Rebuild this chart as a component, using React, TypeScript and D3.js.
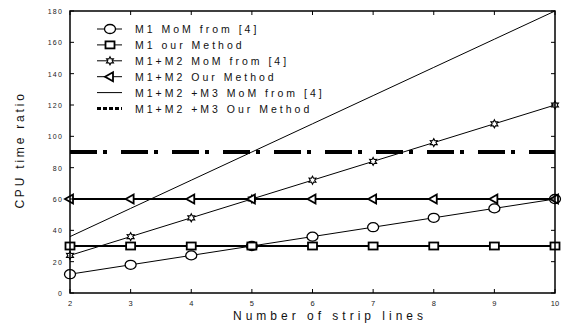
import * as d3 from "d3"

const xValues = [2, 3, 4, 5, 6, 7, 8, 9, 10]
const m1MoM = [12, 18, 24, 30, 36, 42, 48, 54, 60]
const m1Ours = [30, 30, 30, 30, 30, 30, 30, 30, 30]
const m12MoM = [24, 36, 48, 60, 72, 84, 96, 108, 120]
const m12Ours = [60, 60, 60, 60, 60, 60, 60, 60, 60]
const m123MoM = [36, 54, 72, 90, 108, 126, 144, 162, 180]
const m123Ours = [90, 90, 90, 90, 90, 90, 90, 90, 90]
const yTicks = [0, 20, 40, 60, 80, 100, 120, 140, 160, 180]
const legendLabels = [
  "M1 MoM from [4]",
  "M1 our Method",
  "M1+M2 MoM from [4]",
  "M1+M2 Our Method",
  "M1+M2 +M3 MoM from [4]",
  "M1+M2 +M3 Our Method",
]

type Marker = "circle" | "square" | "star" | "triangle" | "none"

const W = 566
const H = 328
const left = 70
const right = 555
const top = 11
const bottom = 293

// small six-pointed star
const starPath = (() => {
  const pts: string[] = []
  for (let k = 0; k < 12; k++) {
    const r = k % 2 === 0 ? 4 : 2.2
    const a = (Math.PI / 6) * k - Math.PI / 2
    pts.push(`${(r * Math.cos(a)).toFixed(2)},${(r * Math.sin(a)).toFixed(2)}`)
  }
  return "M" + pts.join("L") + "Z"
})()

function MarkerShape({ kind, cx, cy }: { kind: Marker; cx: number; cy: number }) {
  const st = { fill: "white", stroke: "black", strokeWidth: 1.3 }
  if (kind === "circle") return <ellipse cx={cx} cy={cy} rx={5.5} ry={4.5} {...st} />
  if (kind === "square") return <rect x={cx - 4.5} y={cy - 3.5} width={9} height={7} {...st} strokeWidth={1.8} />
  if (kind === "triangle")
    return <path d={`M${cx - 5},${cy} L${cx + 3},${cy - 4.5} L${cx + 3},${cy + 4.5} Z`} {...st} strokeWidth={1.8} />
  if (kind === "star") return <path d={starPath} transform={`translate(${cx},${cy})`} {...st} strokeWidth={1.1} />
  return null
}

export default function App() {
  const x = d3.scaleLinear().domain([2, 10]).range([left, right])
  const y = d3.scaleLinear().domain([0, 180]).range([bottom, top])
  const line = d3
    .line<number>()
    .x((_, i) => x(xValues[i]))
    .y((d) => y(d))

  const series: { data: number[]; marker: Marker; width: number; dash?: string }[] = [
    { data: m1MoM, marker: "circle", width: 1 },
    { data: m1Ours, marker: "square", width: 2.2 },
    { data: m12MoM, marker: "star", width: 1 },
    { data: m12Ours, marker: "triangle", width: 2.2 },
    { data: m123MoM, marker: "none", width: 1 },
    { data: m123Ours, marker: "none", width: 4, dash: "27,6,4,14" },
  ]

  const font = "Arial, 'Liberation Sans', sans-serif"

  return (
    <svg width={W} height={H} style={{ position: "absolute", left: 0, top: 0, background: "white" }}>
      <rect width={W} height={H} fill="white" />
      {/* series lines */}
      {series.map((s, i) => (
        <path
          key={"l" + i}
          d={line(s.data) ?? ""}
          fill="none"
          stroke="black"
          strokeWidth={s.width}
          strokeDasharray={s.dash}
        />
      ))}
      {/* markers */}
      {series.map((s, i) =>
        s.data.map((v, j) => <MarkerShape key={`m${i}-${j}`} kind={s.marker} cx={x(xValues[j])} cy={y(v)} />),
      )}
      {/* frame */}
      <rect x={left} y={top} width={right - left} height={bottom - top} fill="none" stroke="black" strokeWidth={1.5} />
      {/* x ticks */}
      {xValues.map((v) => (
        <g key={"xt" + v}>
          <line x1={x(v)} x2={x(v)} y1={bottom} y2={bottom - 4} stroke="black" />
          <line x1={x(v)} x2={x(v)} y1={top} y2={top + 4} stroke="black" />
          <text x={x(v)} y={bottom + 13} fontSize={7.5} fontFamily={font} textAnchor="middle" fill="#222">
            {v}
          </text>
        </g>
      ))}
      {/* y ticks */}
      {yTicks.map((v) => (
        <g key={"yt" + v}>
          <line x1={left} x2={left + 4} y1={y(v)} y2={y(v)} stroke="black" />
          <line x1={right} x2={right - 4} y1={y(v)} y2={y(v)} stroke="black" />
          <text
            x={left - 7}
            y={y(v) + 3}
            fontSize={7}
            fontFamily={font}
            textAnchor="end"
            letterSpacing={1.2}
            fill="#222"
          >
            {v}
          </text>
        </g>
      ))}
      {/* axis labels */}
      <text
        x={330}
        y={320}
        fontSize={12}
        fontFamily={font}
        textAnchor="middle"
        letterSpacing={4}
        fill="#111"
      >
        Number of strip lines
      </text>
      <text
        transform={`translate(24,150) rotate(-90)`}
        fontSize={12}
        fontFamily={font}
        textAnchor="middle"
        letterSpacing={2.8}
        fill="#111"
      >
        CPU time ratio
      </text>
      {/* legend */}
      {legendLabels.map((label, i) => {
        const ly = 29 + i * 15.9
        const s = series[i]
        return (
          <g key={"lg" + i}>
            <line
              x1={97}
              x2={122}
              y1={ly}
              y2={ly}
              stroke="black"
              strokeWidth={i === 5 ? 3 : 1}
              strokeDasharray={i === 5 ? "4,2" : undefined}
            />
            <MarkerShape kind={s.marker} cx={110} cy={ly} />
            <text x={135} y={ly + 4} fontSize={10.5} fontFamily={font} letterSpacing={3} fill="#111">
              {label}
            </text>
          </g>
        )
      })}
    </svg>
  )
}
